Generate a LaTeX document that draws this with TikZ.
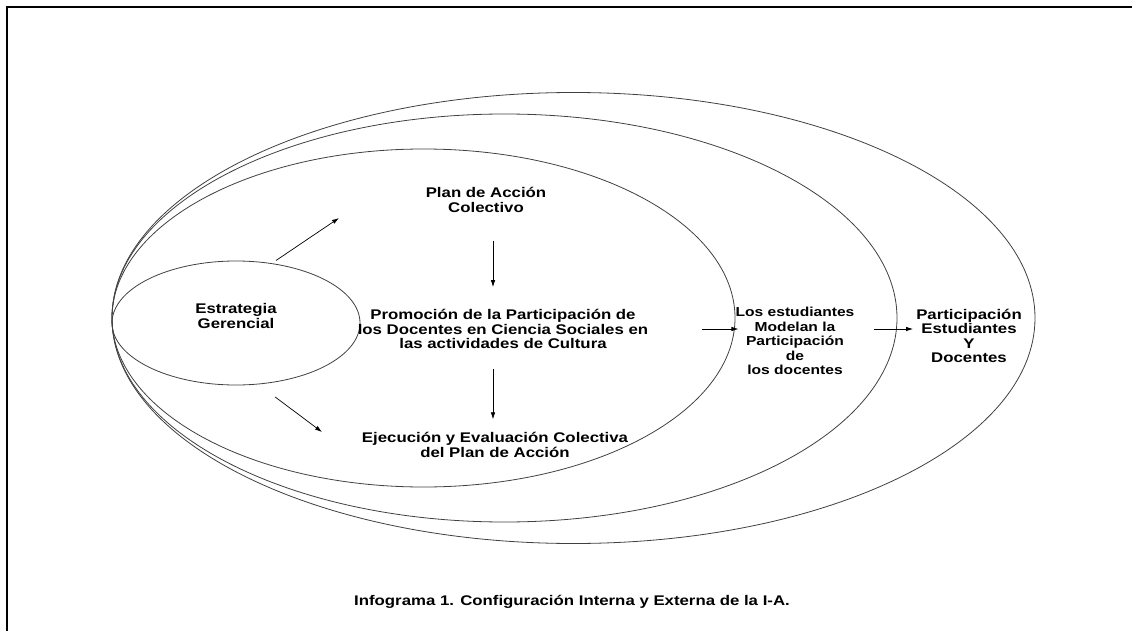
\documentclass[tikz,border=0pt]{standalone}
\usepackage{fontspec}
\setmainfont{Liberation Sans}[FakeStretch=1.2]
\usepackage{tikz}
\usetikzlibrary{shapes.geometric,arrows.meta,calc}

\tikzset{
  txt/.style={font=\bfseries\fontsize{14}{14.5}\selectfont, align=center, inner sep=2pt},
  anillo/.style={draw=black!75, line width=0.8pt},
  flecha/.style={->,>={Latex[length=7pt,width=4.5pt]}, line width=0.7pt}
}

\begin{document}
\begin{tikzpicture}[x=1pt,y=-1pt]
\useasboundingbox (0,0) rectangle (1132,631);
\draw[line width=2.5pt] (7,631) -- (7,7) -- (1132,7);

% anillos
\draw[anillo] (573.5,318) ellipse [x radius=461.5pt, y radius=225.5pt];
\draw[anillo] (504.5,318) ellipse [x radius=392.5pt, y radius=204pt];
\draw[anillo] (423.5,318) ellipse [x radius=311.5pt, y radius=169pt];
\node[anillo, ellipse, minimum width=248pt, minimum height=124pt, inner sep=0] (estr) at (236,323) {};

% textos
\node[txt] (estrtxt) at (236,316) {Estrategia\\Gerencial};
\node[txt] (plan) at (486,200) {Plan de Acción\\Colectivo};
\node[txt] (promo) at (503,329) {Promoción de la Participación de\\los Docentes en Ciencia Sociales en\\las actividades de Cultura};
\node[txt] (ejec) at (495,445) {Ejecución y Evaluación Colectiva\\del Plan de Acción};
\node[txt, font=\bfseries\fontsize{13}{14.5}\selectfont] (estud) at (795,341) {Los estudiantes\\Modelan la\\Participación\\de\\los docentes};
\node[txt] (part) at (969,336) {Participación\\Estudiantes\\Y\\Docentes};
\node[txt] (titulo) at (572,602) {Infograma 1. Configuración Interna y Externa de la I-A.};

% flechas
\coordinate (eje) at (493,0);
\coordinate (pu) at (339,218);
\coordinate (pd) at (322,432);
\draw[flecha, shorten <=5pt] (estr.59) -- (pu);
\draw[flecha, shorten <=21pt] (estr.-70) -- (pd);
\draw[flecha, shorten <=26pt, shorten >=20pt] (plan.south -| eje) -- (promo.north -| eje);
\draw[flecha, shorten <=18pt, shorten >=11pt] (promo.south -| eje) -- (ejec.north -| eje);
\draw[flecha, shorten <=52pt, shorten >=-5pt] (promo.east) -- (promo.east -| estud.west);
\draw[flecha, shorten <=17pt, shorten >=1pt] (estud.east |- promo.east) -- (part.west |- promo.east);

\end{tikzpicture}
\end{document}
